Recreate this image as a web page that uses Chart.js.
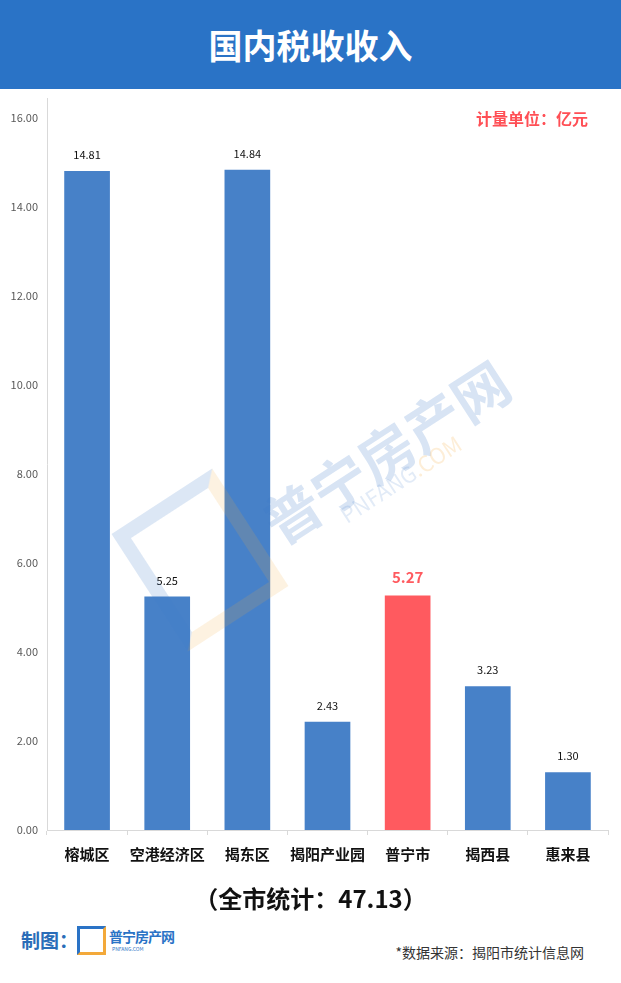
<!DOCTYPE html>
<html>
<head>
<meta charset="utf-8">
<script src="https://cdn.jsdelivr.net/npm/chart.js@4/dist/chart.umd.min.js"></script>
<style>
body { margin: 0; width: 621px; height: 983px; background: #fff; position: relative; overflow: hidden;
       font-family: "Noto Sans CJK SC", "Noto Sans", sans-serif; }
#head { position: absolute; left: 0; top: 0; width: 621px; height: 89px; background: #2A73C6; z-index: 1;
        color: #fff; font-weight: bold; font-size: 34px; text-align: center; line-height: 89px; }
#box { position: absolute; left: 0; top: 70px; width: 621px; height: 819px; }
#unit { position: absolute; right: 33px; top: 106px; color: #FF4F55; font-weight: bold; font-size: 16px; }
#total { position: absolute; left: 0; width: 621px; top: 880px; text-align: center; font-weight: bold; font-size: 24px; color: #111; }
#maker { position: absolute; left: 21px; top: 926px; color: #2A6DB8; font-weight: bold; font-size: 19px; }
#logo { position: absolute; left: 77px; top: 926px; width: 29px; height: 29px; border: 3px solid #2A73C6; border-right-color: #F3A93A; border-bottom-color: #F3A93A; box-sizing: border-box; }
#logotxt { position: absolute; left: 109px; top: 926px; color: #2A73C6; font-weight: bold; font-size: 14px; letter-spacing: -1px; }
#logosub { position: absolute; left: 112px; top: 945px; color: #2A73C6; font-size: 5px; }
#src { position: absolute; right: 37px; top: 942px; color: #333; font-size: 14px; }
.wm { position: absolute; transform: translate(-50%, -50%) rotate(-33deg); pointer-events: none; white-space: nowrap; }
#wm1 { left: 385px; top: 450px; color: rgba(60,120,200,0.2); font-weight: bold; font-size: 56px; }
#wm2 { left: 400px; top: 478px; color: rgba(60,120,200,0.15); font-size: 22px; }
#wm2 span { color: rgba(243,169,58,0.2); }
#wm3 { left: 200px; top: 560px; width: 120px; height: 140px; border: 14px solid rgba(60,120,200,0.18);
       border-right-color: rgba(243,169,58,0.15); border-bottom-color: rgba(243,169,58,0.15); box-sizing: border-box; }
</style>
</head>
<body>
<div id="box"><canvas id="chart"></canvas></div>
<div id="head">国内税收收入</div>
<div id="unit">计量单位：亿元</div>
<div class="wm" id="wm3"></div>
<div class="wm" id="wm1">普宁房产网</div>
<div class="wm" id="wm2">PNFANG<span>.COM</span></div>
<div id="total">（全市统计：47.13）</div>
<div id="maker">制图：</div>
<div id="logo"></div>
<div id="logotxt">普宁房产网</div>
<div id="logosub">PNFANG.COM</div>
<div id="src">*数据来源：揭阳市统计信息网</div>
<script>
const regions = ['榕城区', '空港经济区', '揭东区', '揭阳产业园', '普宁市', '揭西县', '惠来县'];
const taxValues = [14.81, 5.25, 14.84, 2.43, 5.27, 3.23, 1.30];
const highlight = '普宁市';

const blue = '#4781C8';
const red = '#FF5A5F';
const font = '"Noto Sans CJK SC", "Noto Sans", sans-serif';

const valueLabels = {
    id: 'valueLabels',
    afterDatasetsDraw(chart) {
        let ctx = chart.ctx;
        let meta = chart.getDatasetMeta(0);
        ctx.save();
        ctx.textAlign = 'center';
        ctx.textBaseline = 'middle';
        meta.data.forEach(function(bar, i) {
            let v = taxValues[i].toFixed(2);
            if (regions[i] == highlight) {
                ctx.font = 'bold 15px ' + font;
                ctx.fillStyle = red;
                ctx.fillText(v, bar.x, bar.y - 18);
            } else {
                ctx.font = '11px ' + font;
                ctx.fillStyle = '#111';
                ctx.fillText(v, bar.x, bar.y - 16);
            }
        });
        ctx.restore();
    }
};

new Chart(document.getElementById('chart'), {
    type: 'bar',
    data: {
        labels: regions,
        datasets: [{
            data: taxValues,
            backgroundColor: regions.map(r => r == highlight ? red : blue),
            categoryPercentage: 0.57,
            barPercentage: 1
        }]
    },
    options: {
        responsive: true,
        maintainAspectRatio: false,
        animation: false,
        layout: { padding: { top: 28, right: 13, left: 0, bottom: 0 } },
        plugins: { legend: { display: false }, tooltip: { enabled: false } },
        scales: {
            x: {
                grid: { drawOnChartArea: false, drawTicks: true, tickLength: 5, color: '#d9d9d9' },
                border: { color: '#d9d9d9' },
                ticks: { color: '#111', padding: 10, maxRotation: 0, autoSkip: false,
                         font: { family: font, size: 15, weight: 'bold' } },
                afterFit(scale) { scale.height = 59; }
            },
            y: {
                min: 0,
                max: 16.45,
                grid: { display: false, drawTicks: false },
                border: { display: true, color: '#d9d9d9' },
                ticks: { stepSize: 2, includeBounds: false, color: '#595959', padding: 9,
                         font: { family: font, size: 11 },
                         callback: v => v.toFixed(2) },
                afterFit(scale) { scale.width = 47; }
            }
        }
    },
    plugins: [valueLabels]
});
</script>
</body>
</html>
